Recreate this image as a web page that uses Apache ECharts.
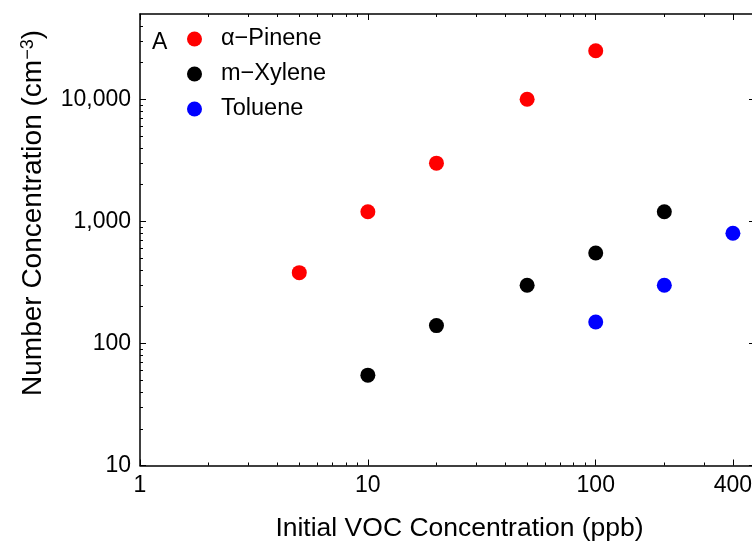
<!DOCTYPE html>
<html>
<head>
<meta charset="utf-8">
<script src="https://cdn.jsdelivr.net/npm/echarts@6/dist/echarts.min.js"></script>
<style>html,body{margin:0;padding:0;background:#fff;}#c{width:752px;height:544px;}</style>
</head>
<body>
<div id="c"></div>
<script>
// Data
const pineneX = [5, 10, 20, 50, 100];
const pineneY = [380, 1200, 3000, 10000, 25000];
const xyleneX = [10, 20, 50, 100, 200];
const xyleneY = [55, 140, 300, 550, 1200];
const tolueneX = [100, 200, 400];
const tolueneY = [150, 300, 800];
const seriesNames = ['\u03b1\u2212Pinene', 'm\u2212Xylene', 'Toluene'];
const xTickLabels = [1, 10, 100, 400];
const xMinorTicks = [2,3,4,5,6,7,8,9,20,30,40,50,60,70,80,90,200,300];
const yTickLabels = [10, 100, 1000, 10000];
const yMinorTicks = [20,30,40,50,60,70,80,90,200,300,400,500,600,700,800,900,2000,3000,4000,5000,6000,7000,8000,9000,20000,30000,40000];

const FONT = 'Liberation Sans, Arial, Helvetica, sans-serif';
const pair = (xs, ys) => xs.map((x, i) => [x, ys[i]]);

function xAx(pos, major, showLabel, extra) {
  return Object.assign({
    type: 'log', logBase: 10, min: 1, max: 500, position: pos,
    axisLine: { show: major, lineStyle: { color: '#000', width: 1.5 } },
    axisTick: { show: true, inside: true, length: major ? 6 : 3,
      customValues: major ? xTickLabels : xMinorTicks,
      lineStyle: { color: '#000', width: 1 } },
    axisLabel: { show: showLabel, customValues: xTickLabels, color: '#000',
      fontSize: 23, fontFamily: FONT, margin: 9 },
    splitLine: { show: false }, minorTick: { show: false }
  }, extra || {});
}
function yAx(pos, major, showLabel) {
  return {
    type: 'log', logBase: 10, min: 10, max: 50000, position: pos,
    axisLine: { show: major, lineStyle: { color: '#000', width: 1.5 } },
    axisTick: { show: true, inside: true, length: major ? 6 : 3,
      customValues: major ? yTickLabels : yMinorTicks,
      lineStyle: { color: '#000', width: 1 } },
    axisLabel: { show: showLabel, customValues: yTickLabels, color: '#000',
      fontSize: 23, fontFamily: FONT, margin: 9,
      formatter: v => Number(v).toLocaleString('en-US') },
    splitLine: { show: false }
  };
}

const chart = echarts.init(document.getElementById('c'));
chart.setOption({
  backgroundColor: '#fff',
  animation: false,
  grid: { left: 140, top: 14, width: 615, height: 451.5, containLabel: false, outerBoundsMode: 'none' },
  xAxis: [
    xAx('bottom', true, true, {
      name: 'Initial VOC Concentration (ppb)', nameLocation: 'middle', nameGap: 50,
      nameTextStyle: { fontSize: 26.5, fontFamily: FONT, color: '#000', padding: [0, 0, 0, 24] }
    }),
    xAx('bottom', false, false),
    xAx('top', true, false),
    xAx('top', false, false)
  ],
  yAxis: [
    yAx('left', true, true),
    yAx('left', false, false),
    yAx('right', true, false),
    yAx('right', false, false)
  ],
  legend: {
    orient: 'vertical', left: 182, top: 22, itemWidth: 15, itemHeight: 15, itemGap: 11,
    icon: 'circle',
    textStyle: { fontSize: 23.5, fontFamily: FONT, color: '#000', padding: [0, 0, 0, 14] },
    data: seriesNames
  },
  graphic: [
    { type: 'text', left: 152, top: 31, style: { text: 'A', font: '23px ' + FONT, fill: '#000' } },
    { type: 'text', x: 33, y: 213, rotation: Math.PI / 2,
      style: {
        text: 'Number Concentration (cm{sup|\u22123})',
        font: '28px ' + FONT, fill: '#000', align: 'center', verticalAlign: 'middle',
        rich: { sup: { fontSize: 18, fontFamily: FONT, verticalAlign: 'top', lineHeight: 14, fill: '#000' } }
      } }
  ],
  series: [
    { name: seriesNames[0], type: 'scatter', symbol: 'circle', symbolSize: 15,
      itemStyle: { color: '#ff0000', opacity: 1 }, data: pair(pineneX, pineneY) },
    { name: seriesNames[1], type: 'scatter', symbol: 'circle', symbolSize: 15,
      itemStyle: { color: '#000000', opacity: 1 }, data: pair(xyleneX, xyleneY) },
    { name: seriesNames[2], type: 'scatter', symbol: 'circle', symbolSize: 15,
      itemStyle: { color: '#0000ff', opacity: 1 }, data: pair(tolueneX, tolueneY) }
  ]
});
</script>
</body>
</html>
